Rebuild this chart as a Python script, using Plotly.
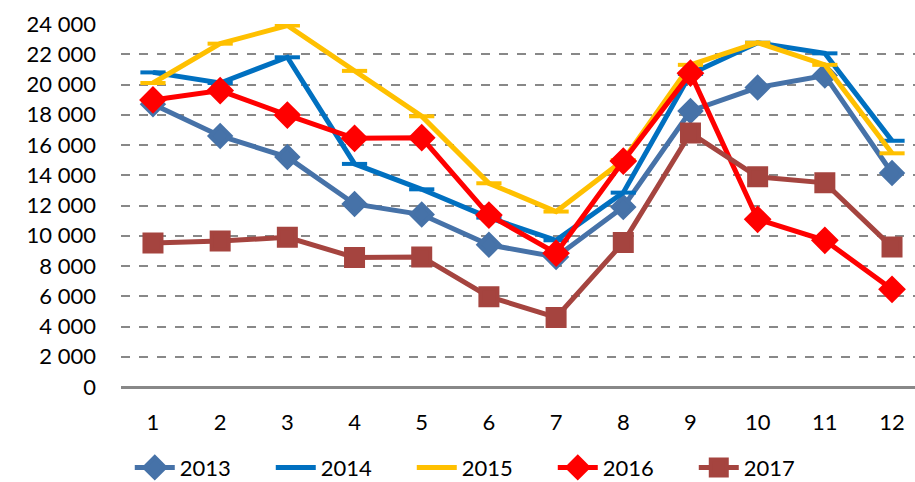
import plotly.graph_objects as go

months = [1, 2, 3, 4, 5, 6, 7, 8, 9, 10, 11, 12]
s2013 = [18700, 16600, 15200, 12100, 11400, 9400, 8600, 11900, 18250, 19800, 20600, 14150]
s2014 = [20800, 20100, 21800, 14750, 13070, 11200, 9700, 12850, 20700, 22760, 22060, 16280]
s2015 = [20100, 22700, 23900, 20900, 17900, 13470, 11600, 15000, 21300, 22760, 21300, 15450]
s2016 = [18980, 19600, 17980, 16440, 16480, 11370, 8850, 14940, 20750, 11090, 9700, 6460]
s2017 = [9520, 9650, 9900, 8570, 8600, 5970, 4600, 9550, 16800, 13900, 13500, 9250]
ytick_vals = [0, 2000, 4000, 6000, 8000, 10000, 12000, 14000, 16000, 18000, 20000, 22000, 24000]
ytick_text = ["0", "2 000", "4 000", "6 000", "8 000", "10 000", "12 000", "14 000",
              "16 000", "18 000", "20 000", "22 000", "24 000"]

series = [
    ("2013", s2013, "#4672A8", "diamond", 16),
    ("2014", s2014, "#0070C0", "line-ew", 18),
    ("2015", s2015, "#FFC000", "line-ew", 18),
    ("2016", s2016, "#FF0000", "diamond", 17),
    ("2017", s2017, "#A5443F", "square", 17),
]

fig = go.Figure()
for name, vals, color, sym, size in series:
    fig.add_trace(go.Scatter(
        x=months, y=vals, name=name, mode="lines+markers",
        line=dict(color=color, width=5),
        marker=dict(symbol=sym, size=size, color=color,
                    line=dict(color=color, width=4)),
    ))

fig.update_layout(
    width=915, height=482,
    margin=dict(l=121, r=0, t=24, b=95, autoexpand=False),
    paper_bgcolor="white", plot_bgcolor="white",
    font=dict(family="Lato", size=22, color="black"),
    showlegend=True,
    legend=dict(orientation="h", x=0.455, xanchor="center", y=-0.222, yanchor="middle",
                font=dict(size=22), itemwidth=40, entrywidth=86, tracegroupgap=0),
    xaxis=dict(range=[0.524, 12.342], tickvals=months, ticktext=[str(m) for m in months],
               showgrid=False, zeroline=False, showline=False, ticks="",
               ticklabelstandoff=20, automargin=False),
    yaxis=dict(range=[0, 24000], tickvals=ytick_vals, ticktext=ytick_text,
               showgrid=True, gridcolor="#888888", griddash="dash", gridwidth=2,
               zeroline=True, zerolinecolor="#888888", zerolinewidth=3,
               showline=False, ticks="", ticklabelstandoff=24, automargin=False),
)

fig.write_html("out.html", config={"displayModeBar": False},
               post_script="document.body.style.margin='0';")
